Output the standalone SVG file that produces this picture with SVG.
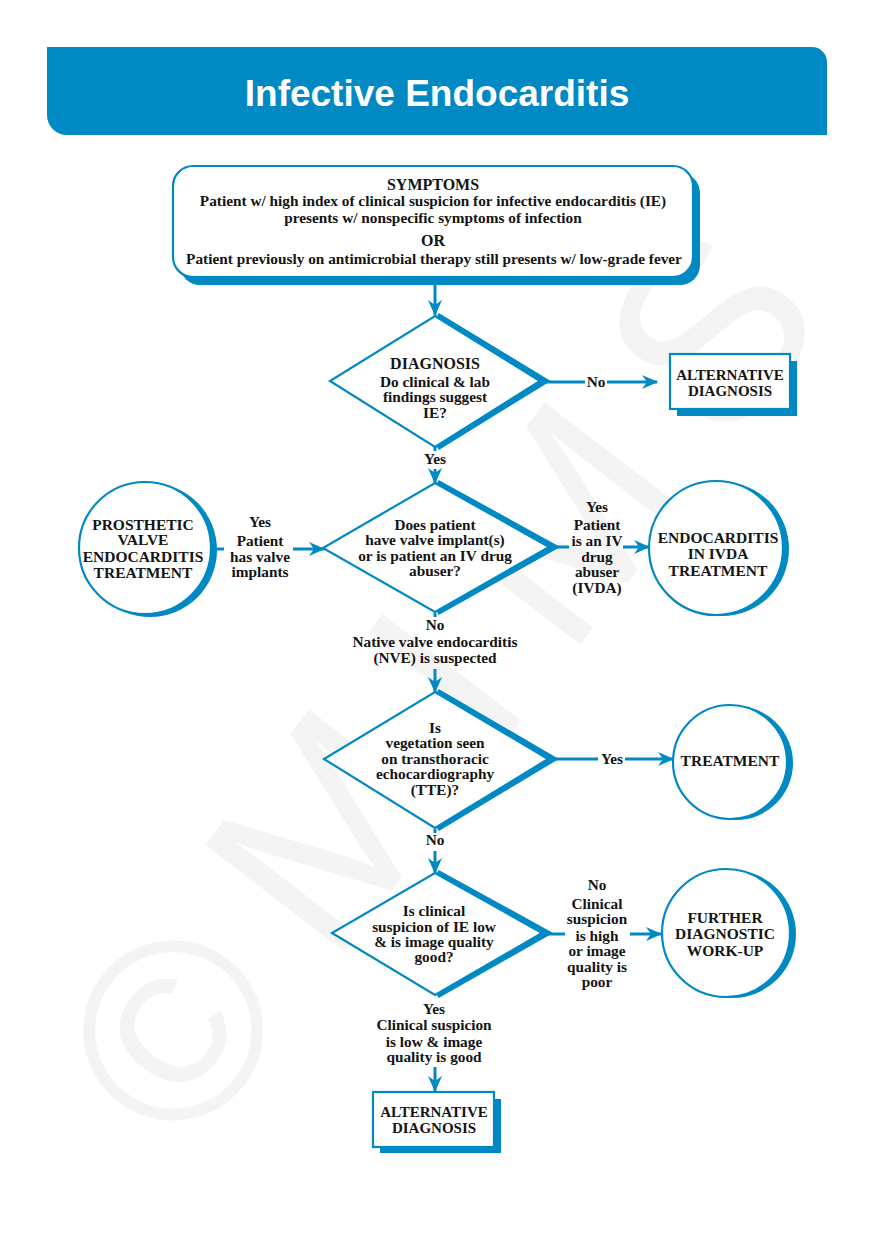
<svg xmlns="http://www.w3.org/2000/svg" width="874" height="1240" viewBox="0 0 874 1240">
<style>
.t{font-family:"Liberation Serif","Times New Roman",serif;font-weight:bold;fill:#141414;text-anchor:middle;font-size:15.3px}
.h{font-size:15.5px}
.b{font-size:15px}
.hh{font-size:16px}
.wm{font-family:"Liberation Sans",Arial,sans-serif;fill:#f4f4f4;font-size:255px}
.ln{stroke:#0089c3;stroke-width:3;fill:none}
.ar{stroke:#0089c3;stroke-width:3;fill:none;marker-end:url(#ah)}
.box{fill:#fff;stroke:#0089c3;stroke-width:2.2}
.sh{fill:#0089c3}
.thk{fill:none;stroke:#0089c3;stroke-width:7;stroke-linejoin:miter}
</style>
<defs>
<marker id="ah" viewBox="0 0 16 14" refX="15" refY="7" markerWidth="16" markerHeight="14" markerUnits="userSpaceOnUse" orient="auto">
<path d="M0,0 L16,7 L0,14 L5,7 z" fill="#0089c3"/>
</marker>
</defs>
<rect width="874" height="1240" fill="#fff"/>
<g id="watermark">
<text class="wm" transform="translate(170,1028) rotate(-52.5)" x="-94" y="92" dx="0 52 52 52 52">©MIMS</text>
</g>
<g id="header">
<path d="M47,47 H812 A15,15 0 0 1 827,62 V135 H67 A20,20 0 0 1 47,115 Z" fill="#0089c3"/>
<text x="437" y="106" style="font-family:'Liberation Sans',Arial,sans-serif;font-weight:bold;font-size:37px;fill:#fff;text-anchor:middle">Infective Endocarditis</text>
</g>
<g id="connectors">
<line class="ar" x1="435" y1="285" x2="435" y2="315"/>
<line class="ln" x1="545" y1="382" x2="585" y2="382"/>
<line class="ar" x1="607" y1="382" x2="657" y2="382"/>
<line class="ln" x1="435" y1="447" x2="435" y2="451"/>
<line class="ar" x1="435" y1="469" x2="435" y2="483"/>
<line class="ln" x1="212" y1="549" x2="224" y2="549"/>
<line class="ar" x1="293" y1="549" x2="324" y2="549"/>
<line class="ln" x1="553" y1="547" x2="569" y2="547"/>
<line class="ar" x1="623" y1="547" x2="649" y2="547"/>
<line class="ln" x1="435" y1="613" x2="435" y2="617"/>
<line class="ar" x1="435" y1="669" x2="435" y2="692"/>
<line class="ln" x1="550" y1="759" x2="598" y2="759"/>
<line class="ar" x1="625" y1="759" x2="673" y2="759"/>
<line class="ln" x1="435" y1="829" x2="435" y2="833"/>
<line class="ar" x1="435" y1="851" x2="435" y2="873"/>
<line class="ln" x1="544" y1="934" x2="565" y2="934"/>
<line class="ar" x1="630" y1="934" x2="661" y2="934"/>
<line class="ar" x1="435" y1="1067" x2="435" y2="1091"/>
</g>
<g id="symptoms">
<rect class="sh" x="180" y="173" width="520" height="112" rx="20"/>
<rect class="box" x="173" y="166" width="520" height="111" rx="20"/>
<text class="t hh" x="433" y="190">SYMPTOMS</text>
<text class="t" x="433" y="206">Patient w/ high index of clinical suspicion for infective endocarditis (IE)</text>
<text class="t" x="433" y="223">presents w/ nonspecific symptoms of infection</text>
<text class="t hh" x="433" y="246">OR</text>
<text class="t" x="434" y="264">Patient previously on antimicrobial therapy still presents w/ low-grade fever</text>
</g>
<g id="diag1">
<polyline class="thk" points="437,316 544,381 437,447"/>
<polygon class="box" points="435,316 540,381 435,447 330,381"/>
<text class="t hh" x="435" y="369">DIAGNOSIS</text>
<text class="t" x="435" y="387">Do clinical &amp; lab</text>
<text class="t" x="435" y="402">findings suggest</text>
<text class="t" x="435" y="418">IE?</text>
</g>
<g id="lbl-no1"><text class="t" x="596" y="387">No</text></g>
<g id="alt1">
<rect class="sh" x="677" y="361" width="120" height="55"/>
<rect class="box" x="670" y="354" width="120" height="55"/>
<text class="t b" x="730" y="380">ALTERNATIVE</text>
<text class="t b" x="730" y="396">DIAGNOSIS</text>
</g>
<g id="lbl-yes1"><text class="t" x="435" y="464">Yes</text></g>
<g id="diag2">
<polyline class="thk" points="437,483 553,547 437,612"/>
<polygon class="box" points="435,483 549,547 435,612 323,548"/>
<text class="t" x="435" y="530">Does patient</text>
<text class="t" x="435" y="545">have valve implant(s)</text>
<text class="t" x="435" y="561">or is patient an IV drug</text>
<text class="t" x="435" y="576">abuser?</text>
</g>
<g id="prosthetic">
<circle class="sh" cx="150" cy="550" r="67"/>
<circle class="box" cx="145" cy="548" r="66"/>
<text class="t h" x="143" y="530">PROSTHETIC</text>
<text class="t h" x="143" y="545">VALVE</text>
<text class="t h" x="143" y="562">ENDOCARDITIS</text>
<text class="t h" x="143" y="578">TREATMENT</text>
</g>
<g id="lbl-yes-valve">
<text class="t" x="260" y="527">Yes</text>
<text class="t" x="260" y="546">Patient</text>
<text class="t" x="260" y="562">has valve</text>
<text class="t" x="260" y="577">implants</text>
</g>
<g id="lbl-yes-ivda">
<text class="t" x="597" y="512">Yes</text>
<text class="t" x="597" y="530">Patient</text>
<text class="t" x="597" y="546">is an IV</text>
<text class="t" x="597" y="562">drug</text>
<text class="t" x="597" y="577">abuser</text>
<text class="t" x="597" y="593">(IVDA)</text>
</g>
<g id="ivda">
<circle class="sh" cx="722" cy="549" r="67"/>
<circle class="box" cx="716" cy="548" r="67"/>
<text class="t h" x="718" y="543">ENDOCARDITIS</text>
<text class="t h" x="718" y="559">IN IVDA</text>
<text class="t h" x="718" y="576">TREATMENT</text>
</g>
<g id="lbl-no-nve">
<text class="t" x="435" y="630">No</text>
<text class="t" x="435" y="647">Native valve endocarditis</text>
<text class="t" x="435" y="663">(NVE) is suspected</text>
</g>
<g id="diag3">
<polyline class="thk" points="437,692 552,759 437,828"/>
<polygon class="box" points="435,692 548,759 435,828 324,759"/>
<text class="t" x="435" y="733">Is</text>
<text class="t" x="435" y="748">vegetation seen</text>
<text class="t" x="435" y="764">on transthoracic</text>
<text class="t" x="435" y="779">echocardiography</text>
<text class="t" x="435" y="795">(TTE)?</text>
</g>
<g id="lbl-yes-tte"><text class="t" x="612" y="764">Yes</text></g>
<g id="treatment">
<circle class="sh" cx="736" cy="763" r="57"/>
<circle class="box" cx="730" cy="762" r="57"/>
<text class="t h" x="730" y="766">TREATMENT</text>
</g>
<g id="lbl-no-tte"><text class="t" x="435" y="845">No</text></g>
<g id="diag4">
<polyline class="thk" points="437,873 546,933 437,995"/>
<polygon class="box" points="435,873 542,933 435,995 332,933"/>
<text class="t" x="434" y="916">Is clinical</text>
<text class="t" x="434" y="932">suspicion of IE low</text>
<text class="t" x="434" y="947">&amp; is image quality</text>
<text class="t" x="434" y="962">good?</text>
</g>
<g id="lbl-no-high">
<text class="t" x="597" y="890">No</text>
<text class="t" x="597" y="909">Clinical</text>
<text class="t" x="597" y="924">suspicion</text>
<text class="t" x="597" y="941">is high</text>
<text class="t" x="597" y="956">or image</text>
<text class="t" x="597" y="972">quality is</text>
<text class="t" x="597" y="987">poor</text>
</g>
<g id="further">
<circle class="sh" cx="732" cy="934" r="64"/>
<circle class="box" cx="726" cy="933" r="64"/>
<text class="t h" x="725" y="923">FURTHER</text>
<text class="t h" x="725" y="939">DIAGNOSTIC</text>
<text class="t h" x="725" y="956">WORK-UP</text>
</g>
<g id="lbl-yes-low">
<text class="t" x="434" y="1014">Yes</text>
<text class="t" x="434" y="1030">Clinical suspicion</text>
<text class="t" x="434" y="1047">is low &amp; image</text>
<text class="t" x="434" y="1062">quality is good</text>
</g>
<g id="alt2">
<rect class="sh" x="380" y="1099" width="121" height="54"/>
<rect class="box" x="373" y="1092" width="121" height="55"/>
<text class="t b" x="434" y="1117">ALTERNATIVE</text>
<text class="t b" x="434" y="1133">DIAGNOSIS</text>
</g>
</svg>
